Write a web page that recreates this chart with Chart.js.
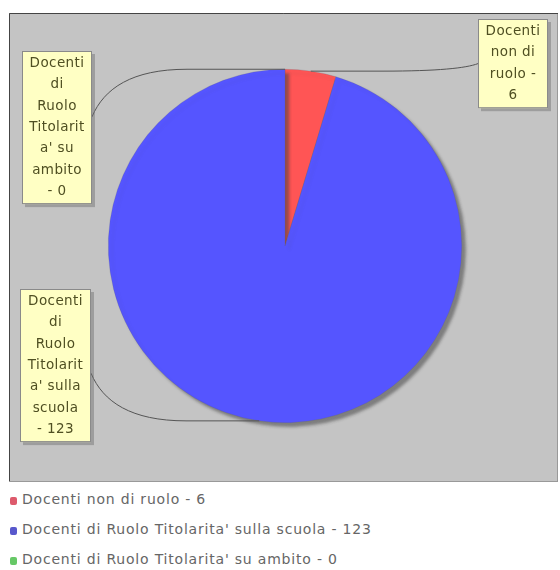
<!DOCTYPE html>
<html>
<head>
<meta charset="utf-8">
<script src="https://cdn.jsdelivr.net/npm/chart.js@4"></script>
<style>
    html, body { margin: 0; padding: 0; background: #fff; }
    #wrap { position: relative; width: 560px; height: 485px; }
    #legend { font-family: "DejaVu Sans", sans-serif; font-size: 14px; letter-spacing: 0.8px; color: #666; padding: 4px 0 0 10px; }
    #legend .item { height: 30px; line-height: 20px; white-space: nowrap; }
    #legend .box { display: inline-block; width: 7px; height: 8px; border-radius: 2px; margin-right: 5px; vertical-align: -1px; }
</style>
</head>
<body>
<div id="wrap"><canvas id="pieChart" width="560" height="485"></canvas></div>
<div id="legend"></div>
<script>
// data
const categories = ['Docenti non di ruolo', "Docenti di Ruolo Titolarita' sulla scuola", "Docenti di Ruolo Titolarita' su ambito"];
const values = [6, 123, 0];
const sliceColors = ['#ff5555', '#5555ff', '#55ff55'];
const legendColors = ['#dd5a6c', '#5858cc', '#66c866'];
// wrapped label text as shown in the boxes
const labelLines = [
    ['Docenti', 'non di', 'ruolo -', '6'],
    ['Docenti', 'di', 'Ruolo', 'Titolarit', "a' sulla", 'scuola', '- 123'],
    ['Docenti', 'di', 'Ruolo', 'Titolarit', "a' su", 'ambito', '- 0']
];

// layout of the annotation boxes (top-left, width, which side the link leaves from, link height ratio)
const labelBoxes = [
    { x: 478, y: 19, w: 70, side: 'left', at: 0.5 },
    { x: 20, y: 289, w: 71, side: 'right', at: 0.55 },
    { x: 22, y: 51, w: 70, side: 'right', at: 0.43 }
];
const lineStep = 21.3;

const plotBackground = {
    id: 'plotBackground',
    beforeDraw(chart) {
        const ctx = chart.ctx;
        ctx.save();
        ctx.fillStyle = '#fff';
        ctx.fillRect(0, 0, chart.width, chart.height);
        ctx.fillStyle = '#c4c4c4';
        ctx.fillRect(9, 13, 549, 469);
        ctx.strokeStyle = '#999';
        ctx.lineWidth = 1;
        ctx.strokeRect(9.5, 13.5, 548, 468);
        ctx.strokeStyle = '#444';
        ctx.beginPath();
        ctx.moveTo(9.5, 481);
        ctx.lineTo(9.5, 13.5);
        ctx.lineTo(558, 13.5);
        ctx.stroke();
        ctx.restore();
    }
};

const pieShadow = {
    id: 'pieShadow',
    beforeDatasetsDraw(chart) {
        const ctx = chart.ctx;
        ctx.save();
        ctx.shadowColor = 'rgba(70,70,70,0.55)';
        ctx.shadowOffsetX = 4;
        ctx.shadowOffsetY = 4;
        ctx.shadowBlur = 3;
    },
    afterDatasetsDraw(chart) {
        chart.ctx.restore();
    }
};

const sliceLabels = {
    id: 'sliceLabels',
    afterDraw(chart) {
        const ctx = chart.ctx;
        const arcs = chart.getDatasetMeta(0).data;
        ctx.save();
        arcs.forEach((arc, i) => {
            const b = labelBoxes[i];
            const lines = labelLines[i];
            const h = lines.length * lineStep + 4;
            const mid = (arc.startAngle + arc.endAngle) / 2;
            const px = arc.x + arc.outerRadius * Math.cos(mid);
            const py = arc.y + arc.outerRadius * Math.sin(mid);
            const ax = b.side === 'right' ? b.x + b.w : b.x;
            const ay = b.y + h * b.at;
            const dir = px > ax ? 1 : -1;

            // link line
            ctx.strokeStyle = '#555';
            ctx.lineWidth = 1;
            ctx.beginPath();
            ctx.moveTo(ax, ay);
            ctx.bezierCurveTo(ax + dir * 12, ay + (py - ay) * 0.6, ax + dir * 40, py, ax + dir * 95, py);
            ctx.lineTo(px, py);
            ctx.stroke();

            // box with shadow
            ctx.fillStyle = 'rgba(110,110,110,0.45)';
            ctx.fillRect(b.x + 3, b.y + 3, b.w, h);
            ctx.fillStyle = '#ffffc4';
            ctx.fillRect(b.x, b.y, b.w, h);
            ctx.strokeStyle = '#8a8a8a';
            ctx.strokeRect(b.x + 0.5, b.y + 0.5, b.w - 1, h - 1);

            ctx.fillStyle = '#4f4f22';
            ctx.font = '13.5px "DejaVu Sans", sans-serif';
            ctx.letterSpacing = '0.4px';
            ctx.textAlign = 'center';
            ctx.textBaseline = 'middle';
            lines.forEach((t, k) => {
                ctx.fillText(t, b.x + b.w / 2, b.y + 2 + lineStep * (k + 0.5));
            });
        });
        ctx.restore();
    }
};

const chart = new Chart(document.getElementById('pieChart').getContext('2d'), {
    type: 'pie',
    data: {
        labels: categories,
        datasets: [{
            data: values,
            backgroundColor: sliceColors,
            borderColor: 'rgba(90,90,110,0.4)',
            borderWidth: 0.5
        }]
    },
    options: {
        responsive: false,
        animation: false,
        layout: { padding: { left: 108, right: 98, top: 69, bottom: 62 } },
        plugins: {
            legend: { display: false },
            tooltip: { enabled: false }
        }
    },
    plugins: [plotBackground, pieShadow, sliceLabels]
});

// legend built from the chart data
const legendEl = document.getElementById('legend');
chart.data.labels.forEach((label, i) => {
    const item = document.createElement('div');
    item.className = 'item';
    const box = document.createElement('span');
    box.className = 'box';
    box.style.background = legendColors[i];
    item.appendChild(box);
    item.appendChild(document.createTextNode(label + ' - ' + chart.data.datasets[0].data[i]));
    legendEl.appendChild(item);
});
</script>
</body>
</html>
